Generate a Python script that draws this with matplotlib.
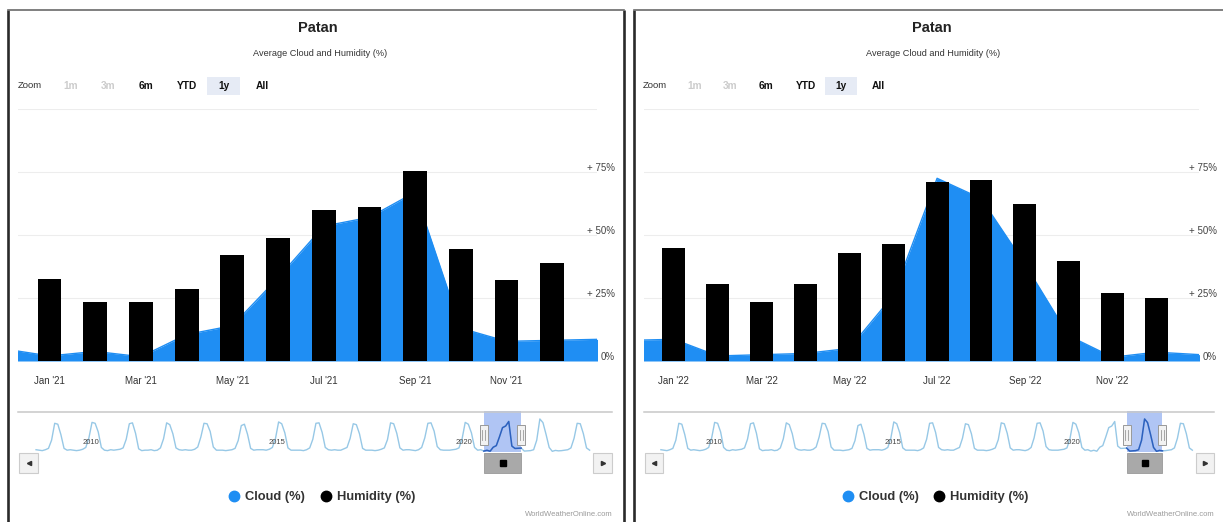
import matplotlib
matplotlib.use("Agg")
import matplotlib.pyplot as plt
from matplotlib.lines import Line2D
from matplotlib.patches import Rectangle, FancyBboxPatch
from matplotlib.transforms import blended_transform_factory

plt.rcParams["font.family"] = ["Liberation Sans", "DejaVu Sans"]

W, H = 1223, 522

# ---- data -------------------------------------------------------------
month_names = ["Jan", "Feb", "Mar", "Apr", "May", "Jun",
               "Jul", "Aug", "Sep", "Oct", "Nov", "Dec"]
labelled_months = [0, 2, 4, 6, 8, 10]
y_ticks = [0, 25, 50, 75]

humidity_2021 = [32.5, 23.5, 23.5, 28.5, 42, 49, 60, 61, 75.5, 44.5, 32, 39]
cloud_2021 = [2, 3.8, 1.7, 10.5, 14, 33, 53.5, 57, 67, 13, 7.8, 8.2]
humidity_2022 = [45, 30.5, 23.5, 30.5, 43, 46.5, 71, 72, 62.5, 39.5, 27, 25]
cloud_2022 = [8.6, 2, 2.5, 3, 5, 26, 72.5, 64.5, 38.5, 10, 1.5, 3.5]
cloud_dec_2020 = 4.8
cloud_jan_2023 = 2.5

# monthly cloud cover used by the navigator strip, 2009 .. Nov 2023
nav_years = list(range(2009, 2024))
nav_cloud = [
    [5, 4, 3, 5, 8, 26, 63, 61, 38, 8, 4, 5],
    [4, 3, 4, 6, 10, 31, 65, 63, 44, 10, 4, 3],
    [5, 4, 5, 6, 9, 28, 62, 64, 41, 7, 3, 4],
    [4, 5, 3, 4, 9, 29, 64, 60, 40, 9, 5, 4],
    [5, 4, 4, 6, 11, 33, 63, 62, 45, 11, 4, 4],
    [4, 3, 4, 5, 8, 25, 58, 61, 39, 8, 4, 5],
    [5, 5, 4, 6, 10, 30, 66, 62, 42, 9, 4, 4],
    [4, 4, 3, 5, 9, 28, 63, 64, 43, 10, 5, 4],
    [5, 4, 4, 7, 10, 30, 62, 60, 40, 8, 4, 4],
    [4, 3, 4, 6, 9, 27, 64, 62, 41, 9, 4, 5],
    [5, 4, 3, 5, 10, 31, 63, 64, 46, 12, 5, 4],
    [4, 4, 5, 6, 9, 29, 65, 61, 42, 10, 4, 5],
    cloud_2021,
    cloud_2022,
    [2.5, 3, 4, 5, 9, 30, 63, 62, 40, 9, 4],
]
nav_labels = ["2010", "2015", "2020"]

BLUE = "#1f8ef3"
TXT = "#333333"

fig = plt.figure(figsize=(W / 100, H / 100), dpi=100)
fig.patch.set_facecolor("white")

ov = fig.add_axes([0, 0, 1, 1], zorder=10)
ov.set_xlim(0, W)
ov.set_ylim(H, 0)
ov.axis("off")
ov.patch.set_alpha(0)


def rect(x0, y0, x1, y1):
    return [x0 / W, 1 - y1 / H, (x1 - x0) / W, (y1 - y0) / H]


def draw_panel(x0, sx, yr, humidity, cloud, cloud_before, cloud_after, sel_year):
    def X(r):
        return x0 + r * sx

    # frame
    ov.plot([X(0), X(0)], [10, H], color="#2a2a2a", lw=1.9, solid_capstyle="butt")
    ov.plot([X(616), X(616)], [10, H], color="#2a2a2a", lw=1.9, solid_capstyle="butt")
    ov.plot([X(0), X(616)], [10, 10], color="#6a6a6a", lw=1.2)

    # titles
    ov.text(X(310), 28, "Patan", ha="center", va="center",
            fontsize=10.5, fontweight="bold", color="#222222")
    ov.text(X(312), 54, "Average Cloud and Humidity (%)", ha="center",
            va="center", fontsize=6.6, color=TXT)

    # range selector
    ov.add_patch(Rectangle((X(199), 77), 33 * sx, 18, fc="#e6ebf5", ec="none"))
    ov.text(X(22), 86, "Zoom", ha="center", va="center", fontsize=6.8, color=TXT)
    for lbl, cx, col in [("1m", 63, "#cccccc"), ("3m", 100, "#cccccc"),
                         ("6m", 138, "#111111"), ("YTD", 179, "#111111"),
                         ("1y", 216, "#111111"), ("All", 254, "#111111")]:
        ov.text(X(cx), 86, lbl, ha="center", va="center", fontsize=7.3,
                fontweight="bold", color=col)

    # main chart
    ax = fig.add_axes(rect(X(10), 109, X(589), 361))
    xs = list(range(-1, 13))
    ys = [cloud_before] + list(cloud) + [cloud_after]
    ax.fill_between(xs, 0, ys, color=BLUE, lw=0, zorder=1)
    ax.plot(xs, ys, color=BLUE, lw=1.0, zorder=2)
    ax.bar(range(12), humidity, width=0.52, color="black", zorder=3)
    ax.set_xlim(-0.69, 11.98)
    ax.set_ylim(0, 100)
    ax.set_yticks([25, 50, 75, 100])
    ax.grid(axis="y", color="#ededed", lw=0.8)
    ax.set_axisbelow(True)
    ax.tick_params(axis="y", length=0, labelleft=False)
    ax.set_xticks(labelled_months,
                  [f"{month_names[m]} '{yr}" for m in labelled_months])
    ax.tick_params(axis="x", length=0, pad=11, labelsize=7, labelcolor=TXT)
    for s in ax.spines.values():
        s.set_visible(False)
    ax.patch.set_alpha(0)
    for v in y_ticks:
        ax.annotate("0%" if v == 0 else f"+ {v}%", xy=(X(607) / W, v),
                    xycoords=("figure fraction", "data"), xytext=(0, 3),
                    textcoords="offset points", ha="right", va="center",
                    fontsize=7, color="#444444", annotation_clip=False)

    # legend
    handles = [Line2D([0], [0], marker="o", ls="", color=BLUE, ms=7.5),
               Line2D([0], [0], marker="o", ls="", color="black", ms=7.5)]
    ax.legend(handles, ["Cloud (%)", "Humidity (%)"], loc="center",
              bbox_to_anchor=(X(314) / W, 1 - 497 / H),
              bbox_transform=fig.transFigure, ncol=2, frameon=False,
              handlelength=0.8, handletextpad=0.45, columnspacing=1.2,
              prop={"weight": "bold", "size": 9.3}, labelcolor=TXT)

    # navigator
    flat = [v for row in nav_cloud for v in row]
    nx = list(range(len(flat)))
    nav = fig.add_axes(rect(X(10), 411, X(604), 452))
    nav_lo, nav_hi = -5.8, 185.2
    nav.set_xlim(nav_lo, nav_hi)
    nav.set_ylim(0, 90)
    nav.axis("off")
    sel = (sel_year - nav_years[0]) * 12
    nav.axvspan(sel, sel + 12, color="#9db7f2", alpha=0.8, lw=0, zorder=1)
    nav.plot(nx, flat, color="#97c8e6", lw=1.0, zorder=2)
    nav.plot(nx[sel:sel + 13], flat[sel:sel + 13], color="#2d5fbf", lw=1.1, zorder=3)
    ov.plot([X(10), X(604)], [411.5, 411.5], color="#c8c8c8", lw=1.1)

    bt = blended_transform_factory(nav.transData, ov.transData)
    ppm = (X(604) - X(10)) / (nav_hi - nav_lo)
    for lbl in nav_labels:
        m = (int(lbl) - nav_years[0]) * 12
        ov.text(m + 9 / ppm, 443, lbl, transform=bt, ha="left", va="center",
                fontsize=5.5, color="#444444")

    hw = 8 / ppm
    for e in (sel, sel + 12):
        ov.add_patch(FancyBboxPatch((e - hw / 2, 425), hw, 20, transform=bt,
                                    boxstyle="square,pad=0", fc="#f2f2f2",
                                    ec="#999999", lw=0.7))
        for d in (-0.2, 0.2):
            ov.plot([e + d * hw, e + d * hw], [430, 440], color="#999999",
                    lw=0.6, transform=bt)

    # scrollbar
    ov.add_patch(Rectangle((sel, 453), 12, 20, transform=bt, fc="#a9a9a9",
                           ec="#999999", lw=0.6))
    ov.plot([sel + 6], [463], marker="s", ms=5, color="black", transform=bt)
    for bx0, mk in [(11, "<"), (585, ">")]:
        ov.add_patch(Rectangle((X(bx0), 453), 19 * sx, 20, fc="#f2f2f2",
                               ec="#cccccc", lw=0.8))
        ov.plot([X(bx0) + 9.5 * sx], [463], marker=mk, ms=3, color="#333333")

    ov.text(X(605), 515, "WorldWeatherOnline.com", ha="right", va="center",
            fontsize=5.5, color="#9a9a9a")


draw_panel(8, 1.0, "21", humidity_2021, cloud_2021, cloud_dec_2020,
           cloud_2022[0], 2021)
draw_panel(634, 0.96, "22", humidity_2022, cloud_2022, cloud_2021[-1],
           cloud_jan_2023, 2022)

fig.savefig("out.png", dpi=100)
